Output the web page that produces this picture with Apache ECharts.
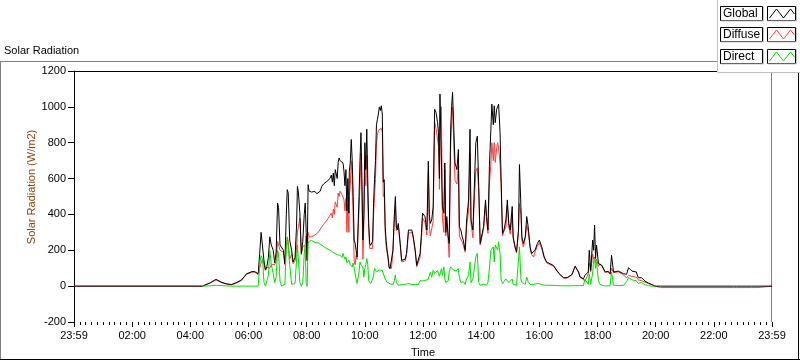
<!DOCTYPE html>
<html><head><meta charset="utf-8">
<script src="https://cdn.jsdelivr.net/npm/echarts@6/dist/echarts.min.js"></script>
<style>html,body{margin:0;padding:0;background:#fff}#c{width:800px;height:361px}</style>
</head><body><div id="c"></div>
<script>
// minutes after 23:59 (left edge) to 23:59 (right edge)
const times = [
0,265,281,293,305,315,325,336,346,356,
367,373,380,383,386,389,392,395,398,401,
404,407,411,414,417,420,422,425,428,432,
435,438,440,442,445,449,452,456,459,461,
463,466,469,472,475,477,479,481,483,485,
487,490,497,501,504,508,511,515,518,522,
525,528,531,533,535,537,539,541,543,545,
547,549,551,553,555,557,559,561,563,565,
567,568,570,572,574,576,578,580,582,584,
586,588,590,592,594,596,598,600,602,604,
606,608,610,612,614,616,618,620,622,624,
626,628,630,632,634,636,638,640,642,644,
646,648,650,652,655,658,661,663,665,667,
669,671,673,676,680,683,686,690,693,697,
700,704,707,710,714,717,719,721,724,728,
731,733,735,738,741,744,747,750,752,754,
755,758,760,763,765,767,769,772,774,777,
779,781,783,786,788,790,793,795,798,801,
803,807,810,814,817,819,823,825,829,832,
835,838,841,845,849,851,854,857,860,862,
865,867,869,872,874,876,879,881,884,887,
891,894,897,900,904,906,910,913,917,919,
922,924,927,931,934,937,941,944,948,951,
956,960,965,970,975,982,989,996,1003,1010,
1017,1027,1034,1037,1041,1044,1051,1054,1061,1063,
1066,1070,1072,1074,1076,1078,1082,1085,1089,1092,
1096,1099,1102,1106,1109,1113,1116,1123,1127,1134,
1140,1144,1147,1151,1154,1160,1164,1171,1178,1185,
1192,1199,1210,1360,1362,1366,1368,1397,1399,1411,
1413,1440];

const globalVals = [
0,0,19,38,21,13,9,21,36,69,
81,81,69,180,300,310,140,90,110,160,
275,230,200,130,190,463,440,230,220,200,
125,400,538,520,257,200,135,160,330,556,
520,407,182,250,400,463,300,144,566,530,
519,525,528,515,510,530,556,570,575,585,
594,600,620,580,631,560,650,659,600,690,
715,700,705,690,687,640,560,650,420,600,
407,640,690,818,700,500,257,240,200,163,
155,500,700,856,600,257,400,800,650,875,
600,350,240,228,228,250,460,594,700,900,
931,960,1000,980,1006,960,580,594,332,250,
200,160,110,98,107,200,400,500,330,313,
350,294,238,144,135,150,182,313,313,313,
275,200,116,107,182,300,407,400,388,313,
697,400,350,369,444,987,968,912,856,600,
1071,1081,444,407,687,300,388,275,238,875,
1000,1081,1090,687,670,650,762,332,313,275,
257,200,369,481,875,369,313,481,800,837,
556,238,228,332,481,388,313,669,875,1015,
900,1006,912,987,1000,1015,856,612,294,313,
369,481,350,313,444,275,219,191,313,678,
444,275,238,275,388,332,219,182,172,200,
238,257,219,163,135,125,116,88,64,47,
47,64,112,107,79,51,41,60,79,200,
88,257,200,341,154,229,126,135,116,107,
79,69,83,69,172,79,79,84,79,69,
66,103,97,84,88,79,47,47,28,17,
9,0,0,0,0,0,0,0,0,0,
0,0];

const diffuseVals = [
0,0,17,35,19,11,7,19,33,66,
78,78,66,60,130,150,120,88,105,100,
100,120,130,120,140,250,240,200,210,190,
120,200,270,250,150,180,125,140,200,300,
290,380,175,220,220,230,280,140,300,275,
270,275,285,290,300,310,330,345,355,369,
380,395,407,380,430,400,470,481,440,519,
500,530,520,510,505,480,420,490,300,460,
300,500,560,700,600,380,140,120,170,150,
145,420,570,740,500,150,350,700,560,730,
480,320,210,215,215,210,400,500,600,800,
840,870,880,875,880,860,500,520,300,220,
185,150,100,90,100,195,390,440,310,300,
340,285,228,135,128,140,170,295,295,300,
265,190,108,100,160,270,380,370,355,285,
640,340,280,320,360,912,880,820,780,540,
980,1000,380,300,650,280,370,250,160,770,
900,1000,1000,590,590,570,670,280,290,245,
230,190,330,420,740,350,270,430,640,660,
530,230,220,320,460,380,295,570,680,800,
700,800,690,770,800,770,680,570,280,305,
330,450,330,290,400,265,214,186,303,460,
400,255,218,265,340,305,210,177,162,190,
223,242,209,158,130,120,112,85,62,45,
45,62,108,103,76,48,38,25,70,130,
80,180,150,163,130,150,110,125,110,102,
76,66,80,66,100,75,75,80,75,62,
45,60,55,55,50,50,35,30,22,15,
8,0,-8,-8,0,-8,0,-8,0,-8,
0,0];

const directVals = [
null,0,2,5,3,1,0,0,0,0,
0,0,0,120,170,150,20,0,0,60,
200,120,70,20,50,200,182,30,0,0,
10,220,275,285,120,10,10,15,140,230,
238,20,0,20,180,228,20,0,238,250,
257,255,244,245,240,238,229,220,215,210,
205,200,195,192,190,185,180,185,175,170,
172,172,165,160,182,165,150,163,130,140,
144,140,120,115,107,130,135,130,40,15,
13,80,135,120,110,107,50,100,120,154,
120,30,25,13,13,40,60,100,107,80,
79,85,90,92,92,88,85,79,40,32,
20,13,13,13,9,9,30,62,20,10,
5,5,8,9,10,10,12,15,12,8,
10,10,8,8,30,30,30,30,30,30,
40,60,77,50,88,70,65,88,70,55,
60,98,60,107,40,20,10,30,80,107,
100,98,90,100,85,80,98,50,20,30,
25,10,40,60,135,20,40,50,163,182,
20,5,8,10,20,5,20,100,200,210,
219,135,230,219,200,247,182,40,13,5,
40,30,20,25,40,10,5,5,10,219,
40,20,20,10,50,25,10,5,10,10,
15,15,10,5,5,5,4,3,2,2,
2,2,3,3,3,3,3,40,10,70,
10,73,140,154,100,135,30,10,5,2,
2,2,2,2,79,5,3,3,3,5,
25,48,45,35,40,30,15,20,8,3,
0,0,null,null,null,null,null,null,null,null,
null,null];

const tickLabels = ['23:59','02:00','04:00','06:00','08:00','10:00','12:00','14:00','16:00','18:00','20:00','22:00','23:59'];
const legendNames = ['Global','Diffuse','Direct'];
const legendColors = ['#000000','#ff3b3b','#00e000'];

const FONT = '"Liberation Sans", Arial, sans-serif';
const pairs = v => times.map((t, i) => [t, v[i]]);

const chart = echarts.init(document.getElementById('c'), null, {renderer: 'canvas'});

const graphics = [];
// outer frame
graphics.push({type:'line', shape:{x1:0, y1:61.5, x2:718, y2:61.5}, style:{stroke:'#808080', lineWidth:1}, silent:true});
graphics.push({type:'line', shape:{x1:0.5, y1:61.5, x2:0.5, y2:360}, style:{stroke:'#808080', lineWidth:1}, silent:true});
graphics.push({type:'line', shape:{x1:0, y1:359.5, x2:800, y2:359.5}, style:{stroke:'#000', lineWidth:1}, silent:true});
graphics.push({type:'line', shape:{x1:798.5, y1:72, x2:798.5, y2:360}, style:{stroke:'#000', lineWidth:1}, silent:true});
// plot top & right border
graphics.push({type:'line', shape:{x1:74, y1:71.5, x2:772, y2:71.5}, style:{stroke:'#000', lineWidth:1}, silent:true});
graphics.push({type:'line', shape:{x1:771.5, y1:71, x2:771.5, y2:322}, style:{stroke:'#808080', lineWidth:1}, silent:true});
// legend panel
graphics.push({type:'rect', shape:{x:717.5, y:-2, width:85, height:74.5}, style:{fill:'#fff', stroke:'#c0c0c0', lineWidth:1}, silent:true, z:50});
const rowTops = [6.5, 27.5, 49.5];
legendNames.forEach((name, i) => {
  const t = rowTops[i], h = 14;
  graphics.push({type:'rect', shape:{x:720.5, y:t, width:42, height:h}, style:{fill:'#fff', stroke:'#000', lineWidth:1}, silent:true, z:51});
  graphics.push({type:'polyline', shape:{points:[[721,t+h+0.5],[763.5,t+h+0.5],[763.5,t]]}, style:{stroke:'#c8c8c8', lineWidth:1, fill:null}, silent:true, z:52});
  graphics.push({type:'text', style:{x:723, y:t+h/2+0.5, text:name, fontSize:12, fontFamily:FONT, fill:'#000', verticalAlign:'middle', align:'left'}, silent:true, z:53});
  graphics.push({type:'rect', shape:{x:767.5, y:t, width:28, height:h}, style:{fill:'#fff', stroke:'#000', lineWidth:1}, silent:true, z:51});
  graphics.push({type:'polyline', shape:{points:[[768,t+h+0.5],[796.5,t+h+0.5],[796.5,t]]}, style:{stroke:'#c8c8c8', lineWidth:1, fill:null}, silent:true, z:52});
  graphics.push({type:'polyline', shape:{points:[[769.5,t+11.5],[776.5,t+2.5],[783.5,t+11.5],[790.5,t+2.5],[794.5,t+7.5]]}, style:{stroke:legendColors[i], lineWidth:1, fill:null}, silent:true, z:53});
});
// title and axis names
graphics.push({type:'text', style:{x:4, y:51, text:'Solar Radiation', fontSize:11, fontFamily:FONT, fill:'#000', verticalAlign:'middle'}, silent:true});
graphics.push({type:'text', x:32, y:187, rotation:Math.PI/2, style:{x:0, y:0, text:'Solar Radiation (W/m2)', fontSize:11, fontFamily:FONT, fill:'#8a4510', align:'center', verticalAlign:'middle'}, silent:true});
graphics.push({type:'text', style:{x:423, y:353, text:'Time', fontSize:11, fontFamily:FONT, fill:'#000', align:'center', verticalAlign:'middle'}, silent:true});

const option = {
  animation: false,
  backgroundColor: '#fff',
  grid: {left: 74, top: 71, width: 698, height: 251, show: false},
  xAxis: {
    type: 'value', min: 0, max: 1440, interval: 120,
    axisLine: {show: false, onZero: false},
    axisTick: {show: true, length: 5, lineStyle: {color: '#000'}},
    minorTick: {show: true, splitNumber: 10, length: 3, lineStyle: {color: '#000'}},
    splitLine: {show: false}, minorSplitLine: {show: false},
    axisLabel: {color: '#000', fontSize: 11, fontFamily: FONT, margin: 8,
      formatter: v => tickLabels[Math.round(v / 120)] || ''}
  },
  yAxis: {
    type: 'value', min: -200, max: 1200, interval: 200,
    axisLine: {show: true, onZero: false, lineStyle: {color: '#000', width: 1}},
    axisTick: {show: true, length: 6, lineStyle: {color: '#000'}},
    splitLine: {show: false},
    axisLabel: {color: '#000', fontSize: 11, fontFamily: FONT, margin: 8, formatter: v => String(v)}
  },
  graphic: graphics,
  series: [
    {name:'Diffuse', type:'line', data:pairs(diffuseVals), showSymbol:false, symbol:'none', lineStyle:{color:'#ff3b3b', width:1}, itemStyle:{color:'#ff3b3b'}, silent:true, z:2},
    {name:'Global', type:'line', data:pairs(globalVals), showSymbol:false, symbol:'none', lineStyle:{color:'#000', width:1}, itemStyle:{color:'#000'}, silent:true, z:3},
    {name:'Direct', type:'line', data:pairs(directVals), showSymbol:false, symbol:'none', connectNulls:false, lineStyle:{color:'#00e000', width:1}, itemStyle:{color:'#00e000'}, silent:true, z:4}
  ]
};
chart.setOption(option);
</script></body></html>
